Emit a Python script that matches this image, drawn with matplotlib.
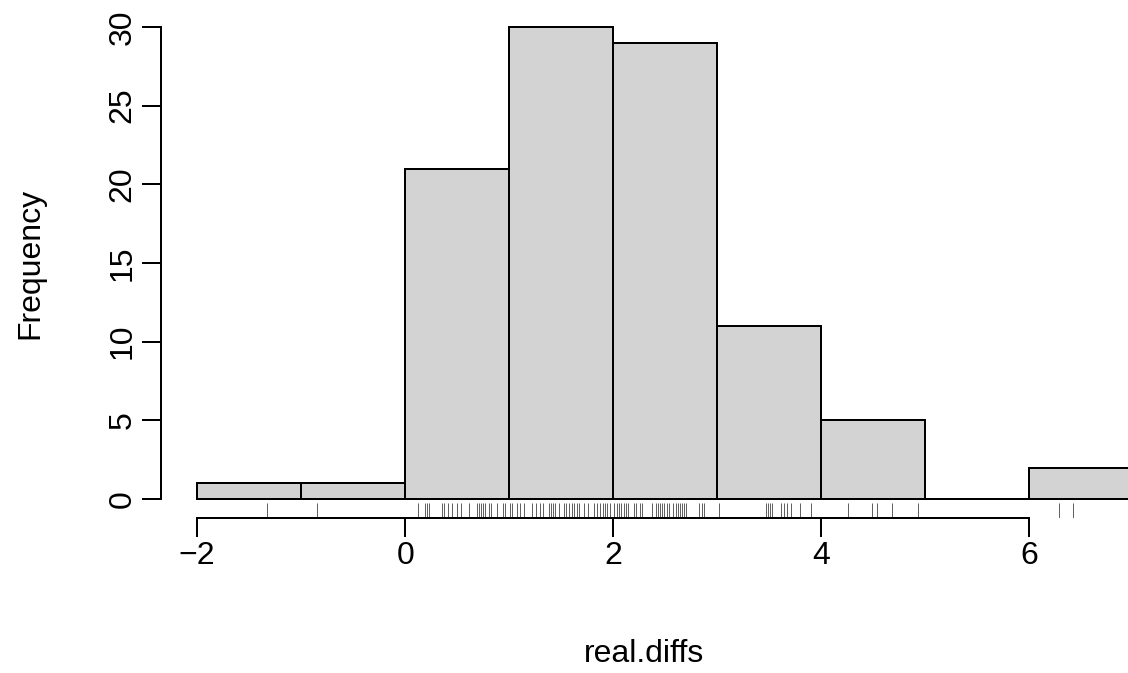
import numpy as np
import matplotlib
matplotlib.use("Agg")
import matplotlib.pyplot as plt

plt.rcParams['font.family'] = ['Liberation Sans', 'DejaVu Sans']

real_diffs = [
    -1.33, -0.85,
    0.12, 0.19, 0.21, 0.23, 0.35, 0.37, 0.41, 0.45, 0.50, 0.54, 0.61,
    0.69, 0.71, 0.73, 0.75, 0.77, 0.81, 0.83, 0.88, 0.94, 0.96,
    1.01, 1.03, 1.08, 1.10, 1.14, 1.22, 1.26, 1.30, 1.33, 1.38,
    1.40, 1.42, 1.44, 1.48, 1.53, 1.55, 1.58, 1.60, 1.62, 1.65,
    1.67, 1.72, 1.76, 1.82, 1.84, 1.87, 1.90, 1.92, 1.94, 1.97,
    2.01, 2.04, 2.06, 2.08, 2.10, 2.12, 2.14, 2.20, 2.22, 2.26,
    2.28, 2.37, 2.41, 2.43, 2.45, 2.47, 2.49, 2.52, 2.54, 2.58,
    2.60, 2.62, 2.64, 2.66, 2.68, 2.70, 2.83, 2.85, 2.87,
    3.02, 3.47, 3.49, 3.51, 3.53, 3.61, 3.64, 3.67, 3.71, 3.80, 3.90,
    4.26, 4.49, 4.54, 4.68, 4.93,
    6.29, 6.42,
]
breaks = [-2, -1, 0, 1, 2, 3, 4, 5, 6, 7]
x_ticks = [-2, 0, 2, 4, 6]
y_ticks = [0, 5, 10, 15, 20, 25, 30]

W, H = 1128, 673
fig = plt.figure(figsize=(W / 100, H / 100), dpi=100)
left, right, top, bottom = 160.7, 1128, 8.1, 517.9
ax = fig.add_axes([left / W, 1 - bottom / H, (right - left) / W, (bottom - top) / H])

lw = 1.44
ax.hist(real_diffs, bins=breaks, color='#D3D3D3', edgecolor='black', linewidth=lw)
ax.vlines(real_diffs, 0, 0.03, transform=ax.get_xaxis_transform(),
          color='#333333', linewidth=0.55)

ax.set_xlim(-2.35, 6.95)
ax.set_ylim(-1.2, 31.2)

for s in ['top', 'right']:
    ax.spines[s].set_visible(False)
ax.spines['bottom'].set_bounds(-2, 6)
ax.spines['left'].set_bounds(0, 30)
ax.spines['bottom'].set_linewidth(lw)
ax.spines['left'].set_linewidth(lw)

ax.set_xticks(x_ticks)
ax.set_yticks(y_ticks)
ax.tick_params(length=13.7, width=lw, labelsize=23, pad=3)
plt.setp(ax.get_yticklabels(), rotation=90, va='center')

fig.text(30 / W, 1 - 263 / H, 'Frequency', rotation=90, ha='center', va='center', fontsize=23)
fig.text((left + right) / 2 / W, 1 - 654 / H, 'real.diffs', ha='center', va='center', fontsize=23)

fig.savefig('out.png', dpi=100)
